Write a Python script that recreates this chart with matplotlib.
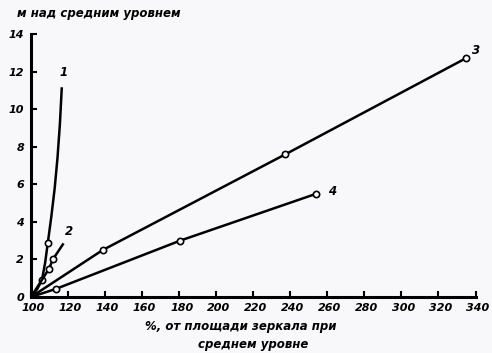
import matplotlib.pyplot as plt
from matplotlib.transforms import ScaledTranslation

# кривые: % от площади зеркала при среднем уровне -> м над средним уровнем
x1 = [100, 103.5, 105.9, 107.6, 109.1, 111.0, 112.8, 114.3, 115.6, 116.6]
y1 = [0, 0.45, 0.9, 1.8, 2.9, 4.3, 5.8, 7.4, 9.2, 11.1]
m1 = [2, 4]

x2 = [100, 109.7, 111.8, 117.2]
y2 = [0, 1.5, 2.0, 2.8]
m2 = [1, 2]

x3 = [100, 138.7, 237.4, 334.6]
y3 = [0, 2.5, 7.6, 12.7]
m3 = [1, 2, 3]

x4 = [100, 113.4, 180.5, 254.1]
y4 = [0, 0.43, 3.0, 5.5]
m4 = [1, 2, 3]

xticks = list(range(100, 341, 20))
yticks = list(range(0, 15, 2))

fig = plt.figure(figsize=(4.92, 3.53), dpi=100)
fig.patch.set_facecolor('#f8f8fa')
ax = fig.add_axes([0.063, 0.1586, 0.9035, 0.745])
ax.set_facecolor('#f8f8fa')

for xs, ys, ms in [(x1, y1, m1), (x2, y2, m2), (x3, y3, m3), (x4, y4, m4)]:
    ax.plot(xs, ys, color='black', lw=1.8, marker='o', markevery=ms,
            ms=4.5, mfc='white', mec='black', mew=1.2, zorder=3)

ax.set_xlim(100, 340)
ax.set_ylim(0, 14)
ax.set_xticks(xticks)
ax.set_yticks(yticks)
ax.spines['top'].set_visible(False)
ax.spines['right'].set_visible(False)
ax.spines['left'].set_linewidth(2.2)
ax.spines['bottom'].set_linewidth(2.2)
ax.tick_params(direction='in', length=4, width=1.5)
ax.tick_params(axis='x', pad=4)
ax.tick_params(axis='y', pad=5)
shift = ScaledTranslation(2.5 / 100, 0, fig.dpi_scale_trans)
for lab in ax.get_xticklabels():
    lab.set_transform(lab.get_transform() + shift)
for lab in ax.get_xticklabels() + ax.get_yticklabels():
    lab.set_fontsize(8)
    lab.set_fontstyle('italic')
    lab.set_fontweight('bold')

txt = dict(fontsize=8.5, fontstyle='italic', fontweight='bold', color='black')
ax.text(117.5, 11.6, '1', ha='center', va='bottom', **txt)
ax.text(120.5, 3.5, '2', ha='center', va='center', **txt)
ax.text(340.5, 13.1, '3', ha='center', va='center', **txt)
ax.text(262.5, 5.6, '4', ha='center', va='center', **txt)

fig.text(0.035, 0.962, 'м над средним уровнем', ha='left', va='center', **txt)
fig.text(0.49, 0.074, '%, от площади зеркала при', ha='center', va='center', **txt)
fig.text(0.515, 0.024, 'среднем уровне', ha='center', va='center', **txt)

fig.savefig('out.png', dpi=100, facecolor=fig.get_facecolor())
